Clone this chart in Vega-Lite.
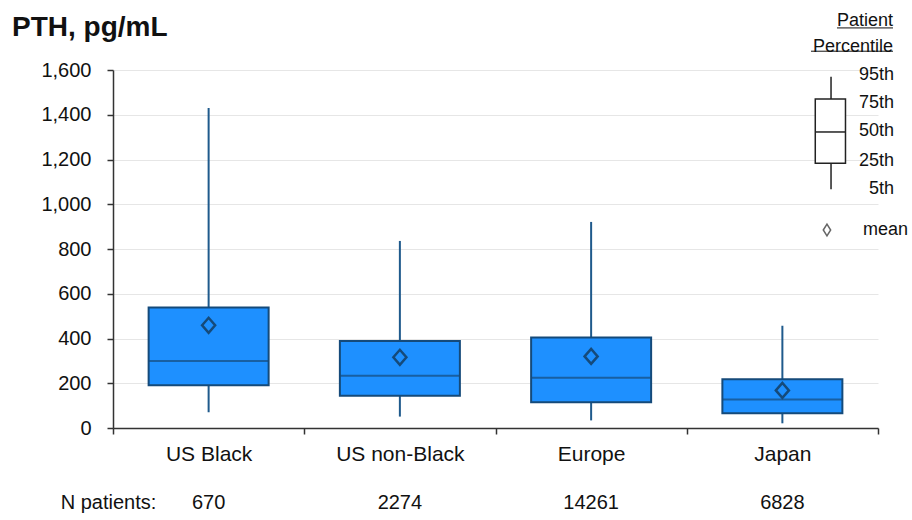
{
  "$schema": "https://vega.github.io/schema/vega-lite/v6.json",
  "width": 765,
  "height": 358,
  "autosize": {"type": "none"},
  "padding": {"left": 113, "top": 70, "right": 34, "bottom": 92},
  "background": "white",
  "title": {"text": "PTH, pg/mL", "anchor": "start", "frame": "group", "fontSize": 28, "font": "Liberation Sans", "fontWeight": "bold", "color": "#111111", "dx": -101, "offset": 0, "dy": 30},
  "config": {"view": {"stroke": null}, "font": "Liberation Sans"},
  "datasets": {
    "pth": [
      {"group": "US Black", "p5": 70, "p25": 191, "p50": 299, "p75": 538, "p95": 1430, "mean": 459, "n": "670"},
      {"group": "US non-Black", "p5": 51, "p25": 144, "p50": 234, "p75": 389, "p95": 836, "mean": 316, "n": "2274"},
      {"group": "Europe", "p5": 34, "p25": 115, "p50": 225, "p75": 404, "p95": 921, "mean": 320, "n": "14261"},
      {"group": "Japan", "p5": 21, "p25": 66, "p50": 127, "p75": 218, "p95": 457, "mean": 168, "n": "6828"}
    ],
    "pct": [
      {"label": "95th", "v": 1578},
      {"label": "75th", "v": 1453},
      {"label": "50th", "v": 1327},
      {"label": "25th", "v": 1193},
      {"label": "5th", "v": 1068}
    ],
    "one": [{}]
  },
  "layer": [
    {
      "data": {"name": "pth"},
      "encoding": {
        "x": {
          "field": "group", "type": "nominal", "sort": null,
          "scale": {"paddingInner": 0, "paddingOuter": 0},
          "axis": {"title": null, "labelAngle": 0, "labelFontSize": 21, "labelColor": "#111111", "labelPadding": 9, "tickBand": "extent", "ticks": true, "tickSize": 6, "tickColor": "#333333", "domainColor": "#333333", "domainWidth": 1.5, "tickWidth": 1.5, "grid": false}
        }
      },
      "layer": [
        {
          "mark": {"type": "rule", "color": "#1f5a8c", "strokeWidth": 2},
          "encoding": {
            "y": {"field": "p5", "type": "quantitative", "scale": {"domain": [0, 1600], "nice": false},
              "axis": {"title": null, "values": [0, 200, 400, 600, 800, 1000, 1200, 1400, 1600], "format": ",d", "labelFontSize": 20, "labelColor": "#111111", "labelPadding": 16, "tickSize": 6, "tickColor": "#333333", "tickWidth": 1.5, "domainColor": "#333333", "domainWidth": 1.5, "grid": true, "gridColor": "#e6e6e6", "gridWidth": 1}},
            "y2": {"field": "p95"}
          }
        },
        {
          "mark": {"type": "bar", "size": 120, "color": "#1e90ff", "stroke": "#154a7a", "strokeWidth": 2},
          "encoding": {
            "y": {"field": "p25", "type": "quantitative"},
            "y2": {"field": "p75"}
          }
        },
        {
          "mark": {"type": "tick", "size": 120, "thickness": 2, "color": "#154a7a", "orient": "horizontal"},
          "encoding": {"y": {"field": "p50", "type": "quantitative"}}
        },
        {
          "mark": {"type": "point", "shape": "M-0.87,0L0,-1L0.87,0L0,1Z", "size": 225, "filled": false, "stroke": "#154a7a", "strokeWidth": 2.5, "opacity": 1},
          "encoding": {"y": {"field": "mean", "type": "quantitative"}}
        },
        {
          "mark": {"type": "text", "fontSize": 20, "color": "#111111", "baseline": "middle", "align": "center"},
          "encoding": {"y": {"datum": -335, "type": "quantitative"}, "text": {"field": "n", "type": "nominal"}}
        }
      ]
    },
    {
      "data": {"name": "one"},
      "layer": [
        {
          "mark": {"type": "rule", "color": "#222222", "strokeWidth": 1.5},
          "encoding": {
            "x": {"datum": 0.9386, "type": "quantitative", "scale": {"domain": [0, 1], "nice": false, "zero": false}, "axis": null},
            "y": {"datum": 1067, "type": "quantitative"},
            "y2": {"datum": 1570}
          }
        },
        {
          "mark": {"type": "rect", "fill": "white", "stroke": "#222222", "strokeWidth": 1.5},
          "encoding": {
            "x": {"datum": 0.918, "type": "quantitative"},
            "x2": {"datum": 0.9575},
            "y": {"datum": 1183, "type": "quantitative"},
            "y2": {"datum": 1470}
          }
        },
        {
          "mark": {"type": "rule", "color": "#222222", "strokeWidth": 1.5},
          "encoding": {
            "x": {"datum": 0.918, "type": "quantitative"},
            "x2": {"datum": 0.9575},
            "y": {"datum": 1323, "type": "quantitative"}
          }
        },
        {
          "data": {"name": "pct"},
          "mark": {"type": "text", "fontSize": 18, "color": "#111111", "align": "right", "baseline": "middle"},
          "encoding": {
            "x": {"datum": 1.0209, "type": "quantitative"},
            "y": {"field": "v", "type": "quantitative"},
            "text": {"field": "label", "type": "nominal"}
          }
        },
        {
          "mark": {"type": "point", "shape": "M-0.63,0L0,-1L0.63,0L0,1Z", "size": 137, "filled": false, "stroke": "#666666", "strokeWidth": 1.5, "opacity": 1},
          "encoding": {
            "x": {"datum": 0.9333, "type": "quantitative"},
            "y": {"datum": 885, "type": "quantitative"}
          }
        },
        {
          "mark": {"type": "text", "fontSize": 18, "color": "#111111", "align": "right", "baseline": "middle"},
          "encoding": {
            "x": {"datum": 1.0392, "type": "quantitative"},
            "y": {"datum": 885, "type": "quantitative"},
            "text": {"value": "mean"}
          }
        },
        {
          "mark": {"type": "text", "fontSize": 18, "color": "#111111", "align": "right", "baseline": "middle"},
          "encoding": {
            "x": {"datum": 1.0196, "type": "quantitative"},
            "y": {"datum": 1820, "type": "quantitative"},
            "text": {"value": "Patient"}
          }
        },
        {
          "mark": {"type": "text", "fontSize": 18, "color": "#111111", "align": "right", "baseline": "middle"},
          "encoding": {
            "x": {"datum": 1.0196, "type": "quantitative"},
            "y": {"datum": 1704, "type": "quantitative"},
            "text": {"value": "Percentile"}
          }
        },
        {
          "mark": {"type": "rule", "color": "#111111", "strokeWidth": 1},
          "encoding": {
            "x": {"datum": 0.9464, "type": "quantitative"},
            "x2": {"datum": 1.0196},
            "y": {"datum": 1788, "type": "quantitative"}
          }
        },
        {
          "mark": {"type": "rule", "color": "#111111", "strokeWidth": 1},
          "encoding": {
            "x": {"datum": 0.9124, "type": "quantitative"},
            "x2": {"datum": 1.0196},
            "y": {"datum": 1684, "type": "quantitative"}
          }
        },
        {
          "mark": {"type": "text", "fontSize": 20, "color": "#111111", "align": "center", "baseline": "middle"},
          "encoding": {
            "x": {"datum": -0.0059, "type": "quantitative"},
            "y": {"datum": -335, "type": "quantitative"},
            "text": {"value": "N patients:"}
          }
        }
      ]
    }
  ],
  "resolve": {"scale": {"x": "independent"}, "axis": {"x": "independent"}}
}
